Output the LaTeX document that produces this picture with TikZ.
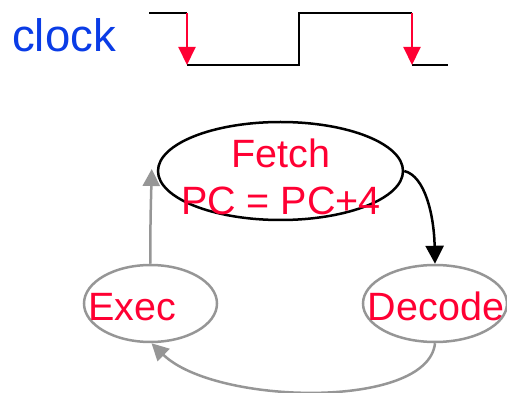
\documentclass[tikz,border=0pt]{standalone}
\usepackage{fontspec}
\setmainfont{Liberation Sans}
\usetikzlibrary{arrows.meta,shapes.geometric}
\definecolor{clkblue}{RGB}{10,60,230}
\definecolor{txtred}{RGB}{255,0,51}
\definecolor{arrgray}{RGB}{150,150,150}
\tikzset{
  wave/.style={line width=2.6pt, black},
  edgearrow/.style={line width=2pt, txtred, -{Triangle[width=17pt,length=18pt]}},
  stateE/.style={ellipse, inner sep=0pt, line width=2.5pt},
  lbl/.style={anchor=base, text=txtred, font=\fontsize{39.5}{44}\selectfont, inner sep=0pt},
  blackarr/.style={line width=2.5pt, black, -{Triangle[width=18pt,length=18pt]}},
  grayarr/.style={line width=2.5pt, arrgray, -{Triangle[width=17pt,length=17pt]}},
}
\begin{document}
\begin{tikzpicture}[x=1pt,y=-1pt]
\useasboundingbox (0,0) rectangle (507,393);
% clock
\node[anchor=base west, inner sep=0pt, text=clkblue, font=\fontsize{45.5}{50}\selectfont] (clk) at (12,52) {clock};
\coordinate (h1) at (149,13);
\coordinate (f1t) at (187,13);
\coordinate (f1b) at (187,65);
\coordinate (r1b) at (299,65);
\coordinate (r1t) at (299,13);
\coordinate (f2t) at (412,13);
\coordinate (f2b) at (412,65);
\coordinate (l2) at (448,65);
\draw[wave] (h1) -- (f1t);
\draw[wave] (f1b) -- (r1b) -- (r1t) -- (f2t);
\draw[wave] (f2b) -- (l2);
\draw[edgearrow] (f1t) -- (f1b);
\draw[edgearrow] (f2t) -- (f2b);
% states
\node[stateE, draw=black, minimum width=245pt, minimum height=98pt] (fetchE) at (280.5,171) {};
\node[stateE, draw=arrgray, minimum width=133pt, minimum height=77pt] (execE) at (150.5,303.5) {};
\node[stateE, draw=arrgray, minimum width=144pt, minimum height=77pt] (decodeE) at (435,303.5) {};
\node[lbl] (fetchT) at (281,168) {Fetch};
\node[lbl] (pcT) at (281,215) {PC = PC+4};
\node[lbl] (execT) at (132,321) {Exec};
\node[lbl] (decodeT) at (436,321) {Decode};
% connectors
\draw[blackarr] (fetchE.east) .. controls (425,176) and (434,215) .. (decodeE.north);
\draw[grayarr] (execE.north) .. controls (150,230) and (151,200) .. ([xshift=-5pt,yshift=2pt]fetchE.west);
\draw[grayarr] (decodeE.south) .. controls (428,410) and (215,405) .. ([xshift=1pt]execE.south);
\end{tikzpicture}
\end{document}
